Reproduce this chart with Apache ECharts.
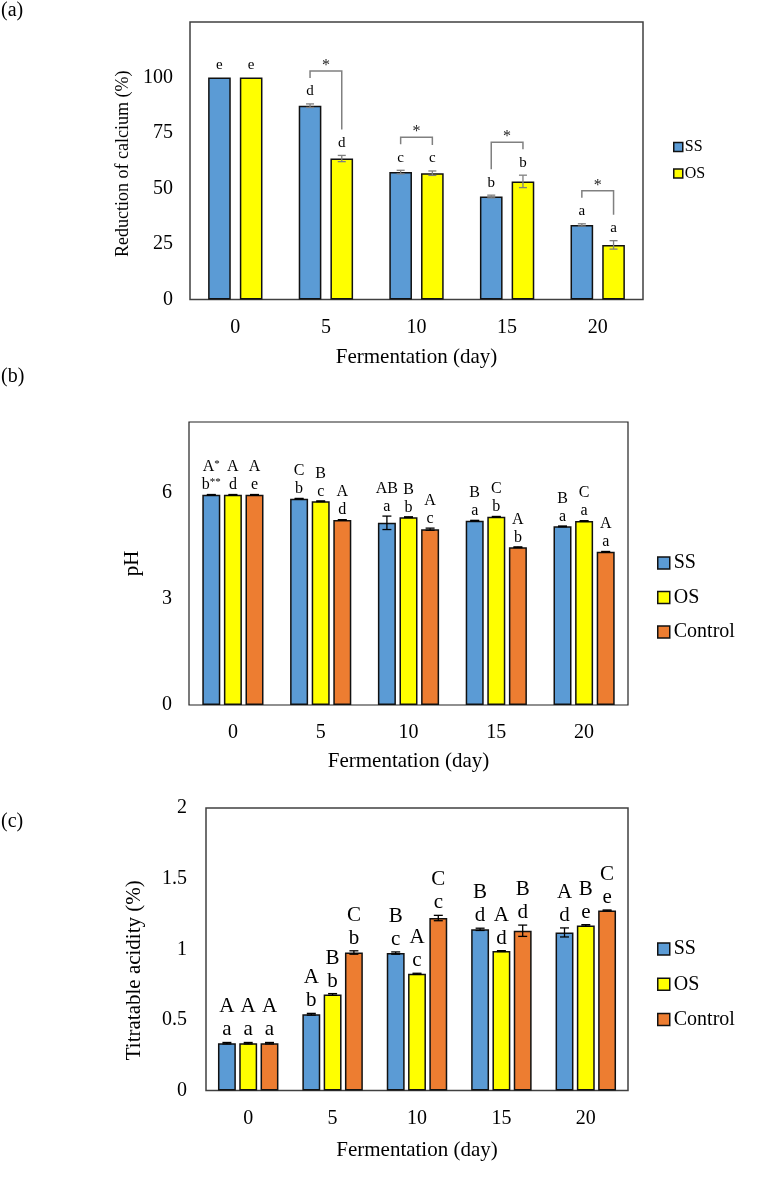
<!DOCTYPE html>
<html><head><meta charset="utf-8">
<script src="https://cdn.jsdelivr.net/npm/echarts@6.0.0/dist/echarts.min.js"></script>
<style>html,body{margin:0;padding:0;background:#fff}#c{width:757px;height:1180px}</style>
</head><body><div id="c"></div><script>
// ---------- data ----------
const days = ['0', '5', '10', '15', '20'];

// (a) Reduction of calcium (%)
const aSS = [100, 87.3, 57.4, 46.4, 33.6];
const aSSErr = [0, 0.8, 0.8, 0.6, 0.5];
const aOS = [100, 63.5, 56.9, 53.2, 24.6];
const aOSErr = [0, 1.4, 1.0, 2.8, 1.9];
const aSSLetters = ['e', 'd', 'c', 'b', 'a'];
const aOSLetters = ['e', 'd', 'c', 'b', 'a'];
const aSigCats = [1, 2, 3, 4];

// (b) pH
const bSS = [5.94, 5.83, 5.15, 5.21, 5.05];
const bSSErr = [0.01, 0.01, 0.19, 0.01, 0.01];
const bOS = [5.94, 5.76, 5.31, 5.32, 5.20];
const bOSErr = [0.01, 0.01, 0.01, 0.01, 0.01];
const bCtrl = [5.94, 5.23, 4.97, 4.46, 4.33];
const bCtrlErr = [0.01, 0.01, 0.03, 0.01, 0.01];
const bSSUpper = ['A*', 'C', 'AB', 'B', 'B'];
const bSSLower = ['b**', 'b', 'a', 'a', 'a'];
const bOSUpper = ['A', 'B', 'B', 'C', 'C'];
const bOSLower = ['d', 'c', 'b', 'b', 'a'];
const bCtrlUpper = ['A', 'A', 'A', 'A', 'A'];
const bCtrlLower = ['e', 'd', 'c', 'b', 'a'];

// (c) Titratable acidity (%)
const cSS = [0.335, 0.54, 0.973, 1.141, 1.119];
const cSSErr = [0.005, 0.006, 0.008, 0.008, 0.032];
const cOS = [0.335, 0.68, 0.826, 0.987, 1.169];
const cOSErr = [0.005, 0.006, 0.004, 0.003, 0.005];
const cCtrl = [0.335, 0.977, 1.221, 1.131, 1.275];
const cCtrlErr = [0.005, 0.012, 0.019, 0.04, 0.003];
const cSSUpper = ['A', 'A', 'B', 'B', 'A'];
const cSSLower = ['a', 'b', 'c', 'd', 'd'];
const cOSUpper = ['A', 'B', 'A', 'A', 'B'];
const cOSLower = ['a', 'b', 'c', 'd', 'e'];
const cCtrlUpper = ['A', 'C', 'C', 'B', 'C'];
const cCtrlLower = ['a', 'b', 'c', 'd', 'e'];

// ---------- styling ----------
const FONT = '"Liberation Serif","Times New Roman",serif';
const C_SS = '#5B9BD5', C_OS = '#FFFF00', C_CT = '#ED7D31';
const A_W = 0.25, A_G = 0.40;
const B_W = 0.205, B_G = 0.20;
const C_W = 0.212, C_G = 0.19;

function centerX(api, cat, k, n, wPct, gPct) {
  const c = api.coord([cat, 0])[0];
  const band = api.size([1, 0])[0];
  const w = band * wPct, g = w * gPct;
  const total = n * w + (n - 1) * g;
  return c - total / 2 + w / 2 + k * (w + g);
}

function textEl(x, y, str, fs) {
  return {
    type: 'text', x: x, y: y,
    style: {
      text: String(str).replace(/(\*+)/, '{s|$1}'),
      fontFamily: FONT, fontSize: fs, fill: '#000',
      align: 'center', verticalAlign: 'bottom',
      rich: { s: { fontFamily: FONT, fontSize: Math.round(fs * 0.68), fill: '#000', verticalAlign: 'top' } }
    }
  };
}

function errSeries(o) {
  return {
    type: 'custom', name: o.name, xAxisIndex: o.gi, yAxisIndex: o.gi, z: 5, silent: true,
    data: o.vals.map((v, i) => [i, v, o.errs[i]]),
    encode: { x: 0, y: 1 },
    renderItem: function (params, api) {
      const i = api.value(0), v = api.value(1), e = api.value(2);
      const x = centerX(api, i, o.k, o.n, o.w, o.g);
      const yT = api.coord([i, v + e])[1], yB = api.coord([i, v - e])[1];
      const ch = [];
      if (e > 0) {
        const h = o.cap / 2;
        const st = { stroke: o.color, lineWidth: o.lw };
        ch.push({ type: 'line', shape: { x1: x, y1: yT, x2: x, y2: yB }, style: st });
        ch.push({ type: 'line', shape: { x1: x - h, y1: yT, x2: x + h, y2: yT }, style: st });
        ch.push({ type: 'line', shape: { x1: x - h, y1: yB, x2: x + h, y2: yB }, style: st });
      }
      const yLow = yT - o.lowGap;
      ch.push(textEl(x, yLow, o.lower[i], o.fs));
      if (o.upper) ch.push(textEl(x, yLow - o.rowGap, o.upper[i], o.fs));
      return { type: 'group', children: ch };
    }
  };
}

function barSeries(name, gi, vals, color, w, g) {
  return {
    type: 'bar', name: name, xAxisIndex: gi, yAxisIndex: gi, data: vals,
    barWidth: (w * 100) + '%', barGap: (g * 100) + '%', silent: true,
    itemStyle: { color: color, borderColor: '#111', borderWidth: 1.5 }
  };
}

const axisLabelStyle = { fontFamily: FONT, fontSize: 20, color: '#000' };
function xAx(gi, gap) {
  return {
    gridIndex: gi, type: 'category', data: days,
    axisLine: { show: false }, axisTick: { show: false },
    axisLabel: Object.assign({ margin: 18 }, axisLabelStyle),
    name: 'Fermentation (day)', nameLocation: 'middle', nameGap: gap,
    nameTextStyle: { fontFamily: FONT, fontSize: 21, color: '#000' }
  };
}
function yAx(gi, min, max, interval, fmt, name, nameFs, gap, margin, namePad) {
  return {
    gridIndex: gi, type: 'value', min: min, max: max, interval: interval,
    axisLine: { show: false }, axisTick: { show: false }, splitLine: { show: false },
    axisLabel: Object.assign({ margin: margin, formatter: fmt }, axisLabelStyle),
    name: name, nameLocation: 'middle', nameGap: gap, nameRotate: 90,
    nameTextStyle: { fontFamily: FONT, fontSize: nameFs, color: '#000', padding: namePad || 0 }
  };
}

const series = [
  barSeries('SS', 0, aSS, C_SS, A_W, A_G),
  barSeries('OS', 0, aOS, C_OS, A_W, A_G),
  errSeries({ name: 'eaSS', gi: 0, vals: aSS, errs: aSSErr, k: 0, n: 2, w: A_W, g: A_G, color: '#7f7f7f', lw: 1.3, cap: 8, lower: aSSLetters, fs: 15, lowGap: 5 }),
  errSeries({ name: 'eaOS', gi: 0, vals: aOS, errs: aOSErr, k: 1, n: 2, w: A_W, g: A_G, color: '#7f7f7f', lw: 1.3, cap: 8, lower: aOSLetters, fs: 15, lowGap: 5 }),
  {
    type: 'custom', name: 'sigA', xAxisIndex: 0, yAxisIndex: 0, z: 6, silent: true,
    data: aSigCats.map(i => [i, aSS[i] + aSSErr[i], aOS[i] + aOSErr[i]]),
    encode: { x: 0, y: 1 },
    renderItem: function (params, api) {
      const i = api.value(0);
      const xL = centerX(api, i, 0, 2, A_W, A_G), xR = centerX(api, i, 1, 2, A_W, A_G);
      const yL = api.coord([i, api.value(1)])[1] - 26, yR = api.coord([i, api.value(2)])[1] - 26;
      const yT = Math.min(yL, yR) - 7;
      return {
        type: 'group', children: [
          { type: 'polyline', shape: { points: [[xL, yL], [xL, yT], [xR, yT], [xR, yR]] }, style: { stroke: '#808080', lineWidth: 1.5, fill: null } },
          { type: 'text', x: (xL + xR) / 2, y: yT - 5, style: { text: '*', fontFamily: FONT, fontSize: 16, fill: '#222', align: 'center', verticalAlign: 'middle' } }
        ]
      };
    }
  },
  barSeries('SS', 1, bSS, C_SS, B_W, B_G),
  barSeries('OS', 1, bOS, C_OS, B_W, B_G),
  barSeries('Control', 1, bCtrl, C_CT, B_W, B_G),
  errSeries({ name: 'ebSS', gi: 1, vals: bSS, errs: bSSErr, k: 0, n: 3, w: B_W, g: B_G, color: '#000', lw: 1.3, cap: 9, lower: bSSLower, upper: bSSUpper, fs: 16, lowGap: 1.5, rowGap: 18 }),
  errSeries({ name: 'ebOS', gi: 1, vals: bOS, errs: bOSErr, k: 1, n: 3, w: B_W, g: B_G, color: '#000', lw: 1.3, cap: 9, lower: bOSLower, upper: bOSUpper, fs: 16, lowGap: 1.5, rowGap: 18 }),
  errSeries({ name: 'ebCt', gi: 1, vals: bCtrl, errs: bCtrlErr, k: 2, n: 3, w: B_W, g: B_G, color: '#000', lw: 1.3, cap: 9, lower: bCtrlLower, upper: bCtrlUpper, fs: 16, lowGap: 1.5, rowGap: 18 }),
  barSeries('SS', 2, cSS, C_SS, C_W, C_G),
  barSeries('OS', 2, cOS, C_OS, C_W, C_G),
  barSeries('Control', 2, cCtrl, C_CT, C_W, C_G),
  errSeries({ name: 'ecSS', gi: 2, vals: cSS, errs: cSSErr, k: 0, n: 3, w: C_W, g: C_G, color: '#000', lw: 1.3, cap: 9, lower: cSSLower, upper: cSSUpper, fs: 21, lowGap: 2, rowGap: 23 }),
  errSeries({ name: 'ecOS', gi: 2, vals: cOS, errs: cOSErr, k: 1, n: 3, w: C_W, g: C_G, color: '#000', lw: 1.3, cap: 9, lower: cOSLower, upper: cOSUpper, fs: 21, lowGap: 2, rowGap: 23 }),
  errSeries({ name: 'ecCt', gi: 2, vals: cCtrl, errs: cCtrlErr, k: 2, n: 3, w: C_W, g: C_G, color: '#000', lw: 1.3, cap: 9, lower: cCtrlLower, upper: cCtrlUpper, fs: 21, lowGap: 2, rowGap: 23 })
];

const legendBase = {
  orient: 'vertical', icon: 'rect', selectedMode: false, padding: 0,
  itemStyle: { borderColor: '#111', borderWidth: 1.5 }
};

const option = {
  animation: false,
  backgroundColor: '#fff',
  grid: [
    { left: 190, top: 22, width: 453, height: 277.5, show: true, borderColor: '#404040', borderWidth: 1.5 },
    { left: 189, top: 422, width: 439, height: 283, show: true, borderColor: '#222', borderWidth: 1.2 },
    { left: 206, top: 808, width: 422, height: 282.5, show: true, borderColor: '#404040', borderWidth: 1.5 }
  ],
  xAxis: [xAx(0, 47), xAx(1, 46), xAx(2, 49)],
  yAxis: [
    yAx(0, 0, 125, 25, v => (v === 125 ? '' : String(v)), 'Reduction of calcium (%)', 18, 45, 17, [0, 6, 0, 0]),
    yAx(1, 0, 8, 1, v => (v % 3 === 0 ? String(v) : ''), 'pH', 21, 46, 17),
    yAx(2, 0, 2, 0.5, v => String(v), 'Titratable acidity (%)', 21, 61, 19, [0, 42, 0, 0])
  ],
  legend: [
    Object.assign({}, legendBase, { data: ['SS', 'OS'], left: 673, top: 139, itemWidth: 9, itemHeight: 9, itemGap: 10.5,
      textStyle: { fontFamily: FONT, fontSize: 16, color: '#000', padding: [0, 0, 0, -3] } }),
    Object.assign({}, legendBase, { data: ['SS', 'OS', 'Control'], left: 657, top: 553, itemWidth: 12, itemHeight: 12, itemGap: 14.5,
      textStyle: { fontFamily: FONT, fontSize: 20, color: '#000', padding: [0, 0, 0, -1] } }),
    Object.assign({}, legendBase, { data: ['SS', 'OS', 'Control'], left: 657, top: 939, itemWidth: 12, itemHeight: 12, itemGap: 15.3,
      textStyle: { fontFamily: FONT, fontSize: 20, color: '#000', padding: [0, 0, 0, -1] } })
  ],
  graphic: [
    { type: 'text', left: 1, top: 1, style: { text: '(a)', fontFamily: FONT, fontSize: 20, fill: '#000' } },
    { type: 'text', left: 1, top: 367, style: { text: '(b)', fontFamily: FONT, fontSize: 20, fill: '#000' } },
    { type: 'text', left: 1, top: 812, style: { text: '(c)', fontFamily: FONT, fontSize: 20, fill: '#000' } }
  ],
  series: series
};

const chart = echarts.init(document.getElementById('c'));
chart.setOption(option);
</script></body></html>
